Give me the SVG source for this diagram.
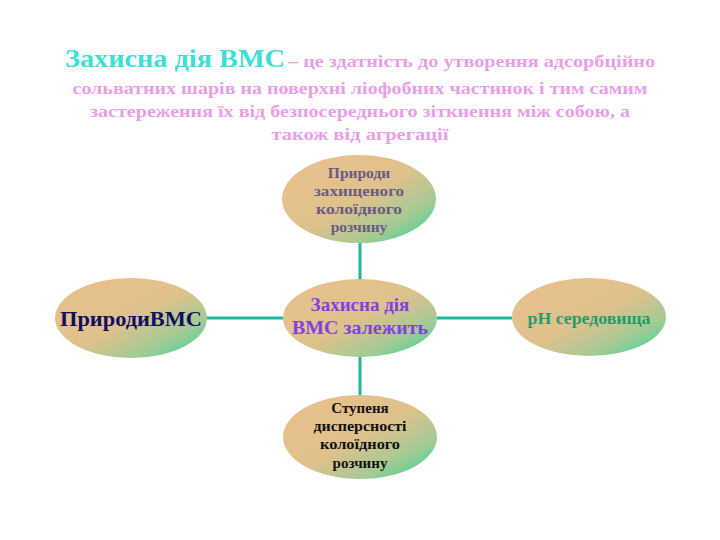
<svg xmlns="http://www.w3.org/2000/svg" width="720" height="540" viewBox="0 0 720 540">
<defs>
<linearGradient id="g" x1="0" y1="0" x2="1" y2="1">
<stop offset="0" stop-color="#eac08c"/>
<stop offset="0.5" stop-color="#dfc18c"/>
<stop offset="0.75" stop-color="#a6ca94"/>
<stop offset="1" stop-color="#26d89c"/>
</linearGradient>
<style>
.e{fill:url(#g);}
.t{font-family:"Liberation Serif","DejaVu Serif",serif;font-weight:bold;text-anchor:middle;}
.p{font-family:"Liberation Serif","DejaVu Serif",serif;font-weight:bold;fill:#ea9ee8;font-size:17px;}
.c{stroke:#1fb89a;stroke-width:3;fill:none;}
</style>
</defs>
<rect width="720" height="540" fill="#ffffff"/>
<g id="title">
<text x="65" y="67" font-family="Liberation Serif, DejaVu Serif, serif" font-weight="bold" font-size="26" fill="#3ddfd6" textLength="220" lengthAdjust="spacingAndGlyphs">Захисна дія ВМС</text>
<text x="288" y="67" class="p" textLength="367" lengthAdjust="spacingAndGlyphs">– це здатність до утворення адсорбційно</text>
<text x="360" y="94" class="p" text-anchor="middle" textLength="575" lengthAdjust="spacingAndGlyphs">сольватних шарів на поверхні ліофобних частинок і тим самим</text>
<text x="360" y="117" class="p" text-anchor="middle" textLength="540" lengthAdjust="spacingAndGlyphs">застереження їх від безпосереднього зіткнення між собою, а</text>
<text x="360" y="140" class="p" text-anchor="middle" textLength="177" lengthAdjust="spacingAndGlyphs">також від агрегації</text>
</g>
<g id="connectors">
<line class="c" x1="360" y1="242" x2="360" y2="280"/>
<line class="c" x1="360" y1="356" x2="360" y2="396"/>
<line class="c" x1="206" y1="318" x2="283" y2="318"/>
<line class="c" x1="437" y1="318" x2="512" y2="318"/>
</g>
<g id="n-top">
<ellipse class="e" cx="359" cy="199" rx="77" ry="44"/>
<text class="t" x="359" y="178" font-size="15.5" fill="#6a5a86">Природи</text>
<text class="t" x="359" y="196" font-size="15.5" fill="#6a5a86" textLength="90" lengthAdjust="spacingAndGlyphs">захищеного</text>
<text class="t" x="359" y="214" font-size="15.5" fill="#6a5a86" textLength="86" lengthAdjust="spacingAndGlyphs">колоїдного</text>
<text class="t" x="359" y="232" font-size="15.5" fill="#6a5a86">розчину</text>
</g>
<g id="n-left">
<ellipse class="e" cx="131" cy="318" rx="76" ry="40"/>
<text class="t" x="131" y="326" font-size="21" fill="#10105e" textLength="142" lengthAdjust="spacingAndGlyphs">ПриродиВМС</text>
</g>
<g id="n-center">
<ellipse class="e" cx="360" cy="318" rx="77" ry="39"/>
<text class="t" x="360" y="311" font-size="19" fill="#8240e0">Захисна дія</text>
<text class="t" x="360" y="334" font-size="19" fill="#8240e0" textLength="136" lengthAdjust="spacingAndGlyphs">ВМС залежить</text>
</g>
<g id="n-right">
<ellipse class="e" cx="589" cy="317" rx="77" ry="39"/>
<text class="t" x="589" y="324" font-size="17" fill="#1e9e6e" textLength="123" lengthAdjust="spacingAndGlyphs">pH середовища</text>
</g>
<g id="n-bottom">
<ellipse class="e" cx="360" cy="437" rx="77" ry="42"/>
<text class="t" x="360" y="413" font-size="15" fill="#111111">Ступеня</text>
<text class="t" x="360" y="431" font-size="15" fill="#111111" textLength="93" lengthAdjust="spacingAndGlyphs">дисперсності</text>
<text class="t" x="360" y="449" font-size="15" fill="#111111" textLength="80" lengthAdjust="spacingAndGlyphs">колоїдного</text>
<text class="t" x="360" y="468" font-size="15" fill="#111111">розчину</text>
</g>
</svg>
